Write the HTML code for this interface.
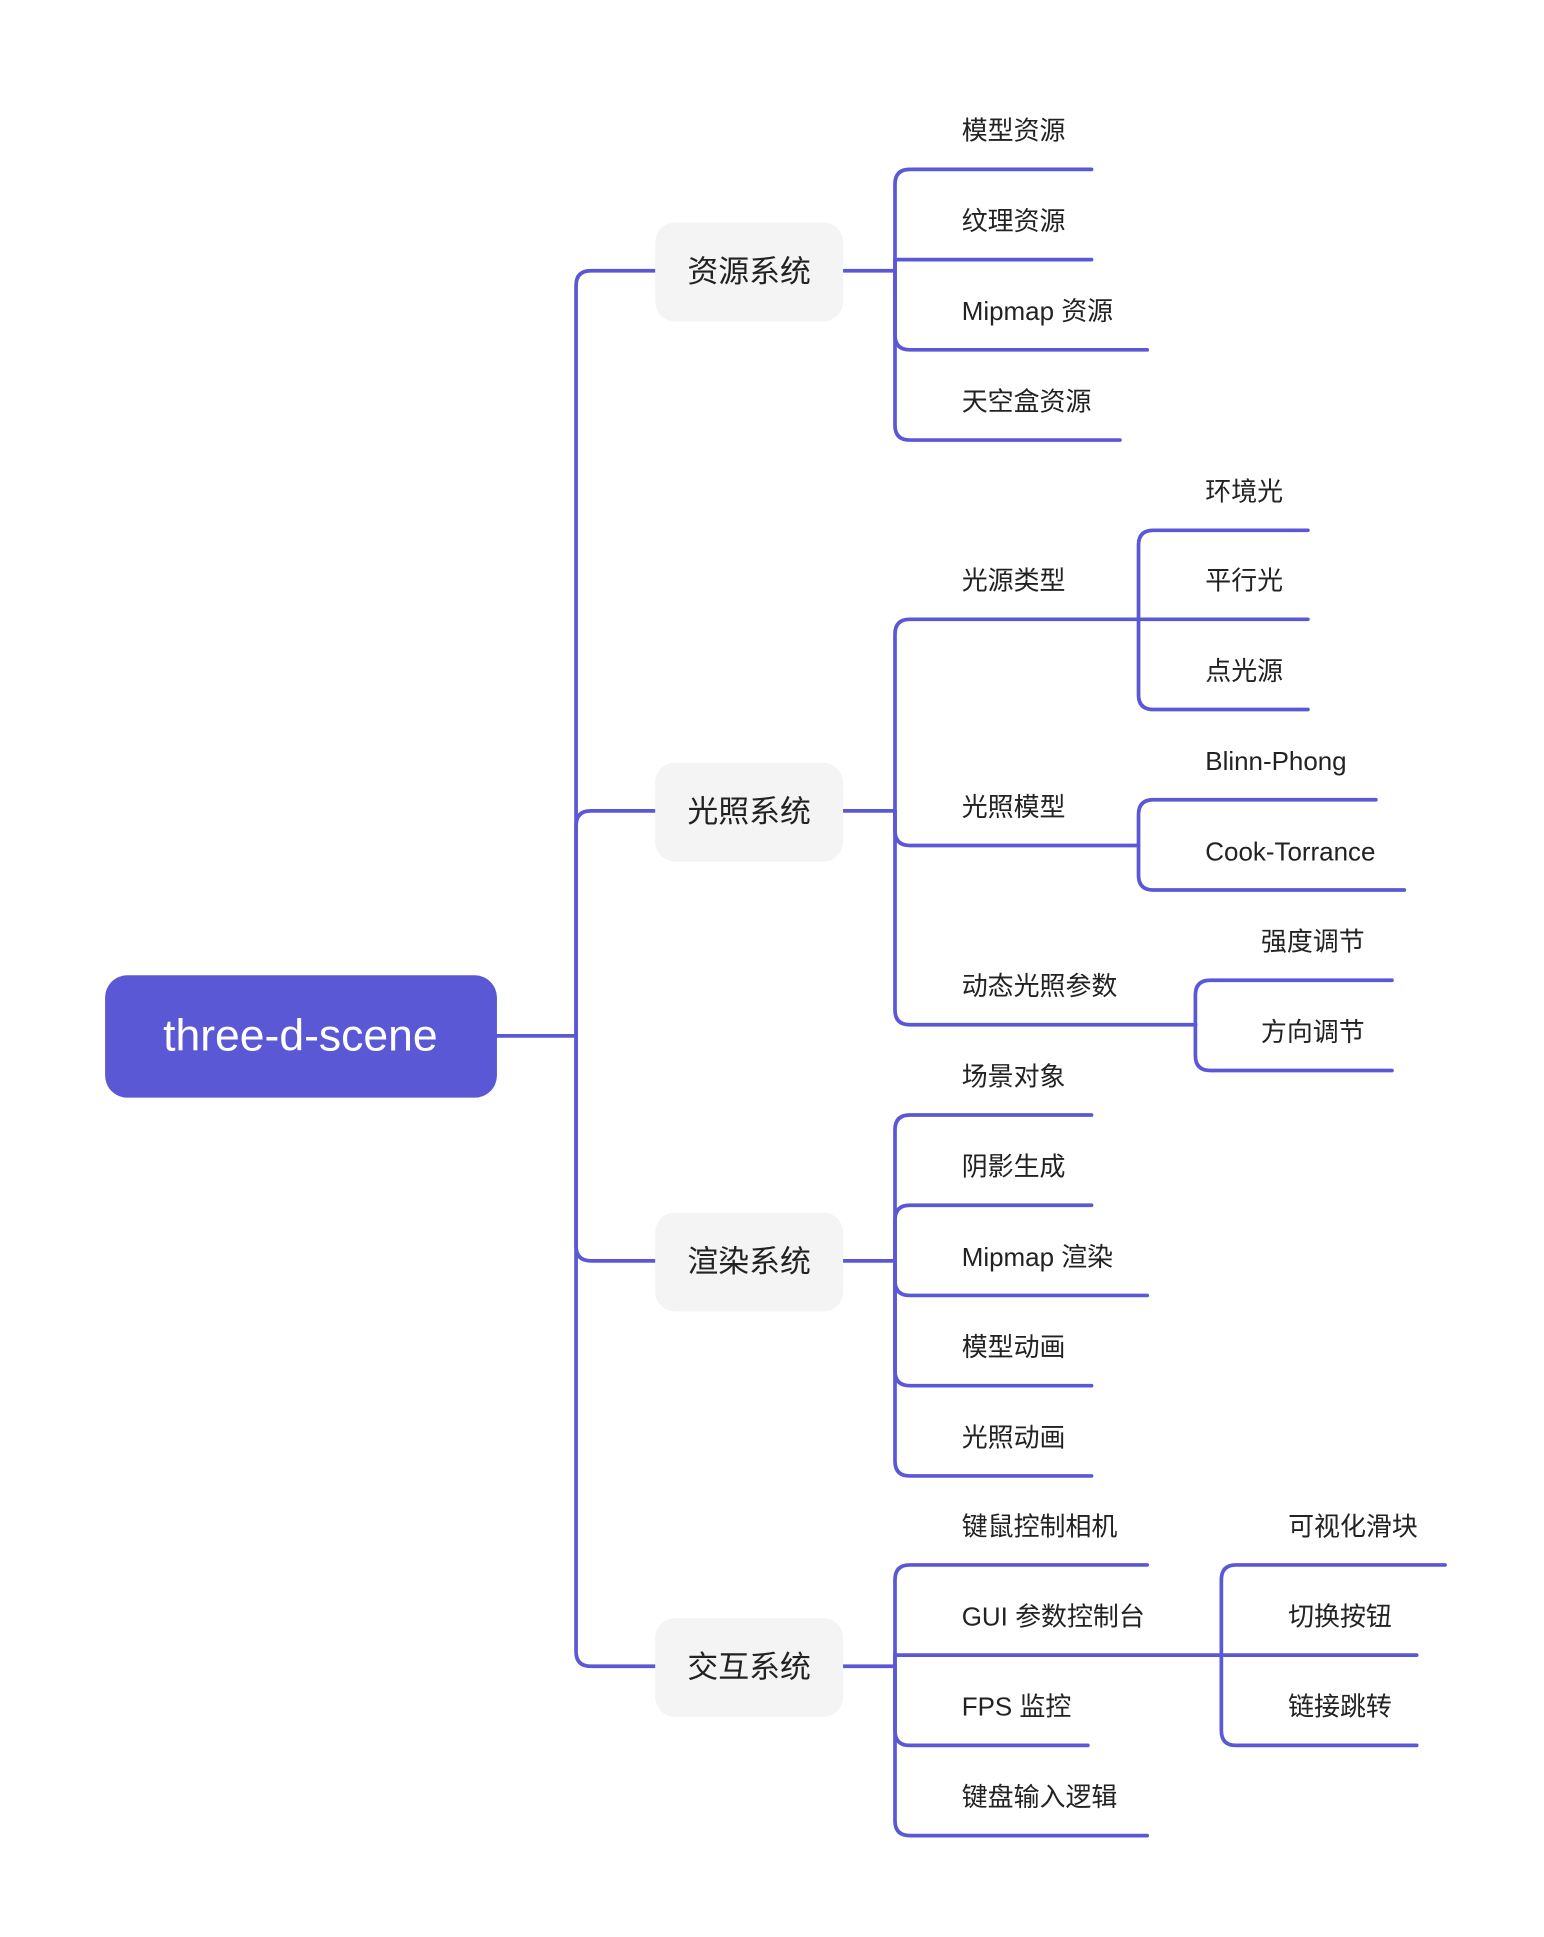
<!DOCTYPE html>
<html><head><meta charset="utf-8"><style>
html,body{margin:0;padding:0;background:#fff;}
svg{display:block;}
text{font-family:"Liberation Sans","Noto Sans CJK SC",sans-serif;fill:#222;}
</style></head><body>
<svg width="1544" height="1937" viewBox="0 0 1249 1567" preserveAspectRatio="none" xmlns="http://www.w3.org/2000/svg">
<rect x="0" y="0" width="1249" height="1567" fill="#fff"/>
<g fill="none" stroke="#5b58d6" stroke-width="3" stroke-linecap="round">
<path d="M402 838 H466"/>
<path d="M466 838 V231 Q466 219 478 219 H530"/>
<path d="M466 838 V668 Q466 656 478 656 H530"/>
<path d="M466 838 V1008 Q466 1020 478 1020 H530"/>
<path d="M466 838 V1336 Q466 1348 478 1348 H530"/>
<path d="M682 219 H724"/><path d="M682 656 H724"/><path d="M682 1020 H724"/><path d="M682 1348 H724"/>
<path d="M724 219 V149 Q724 137 736 137 H883"/>
<path d="M724 219 V210 H883"/>
<path d="M724 219 V271 Q724 283 736 283 H928"/>
<path d="M724 219 V344 Q724 356 736 356 H906"/>
<path d="M724 656 V513 Q724 501 736 501 H921"/>
<path d="M724 656 V672 Q724 684 736 684 H921"/>
<path d="M724 656 V817 Q724 829 736 829 H967"/>
<path d="M921 501 V441 Q921 429 933 429 H1058"/>
<path d="M921 501 H1058"/>
<path d="M921 501 V562 Q921 574 933 574 H1058"/>
<path d="M921 684 V659 Q921 647 933 647 H1113"/>
<path d="M921 684 V708 Q921 720 933 720 H1136"/>
<path d="M967 829 V805 Q967 793 979 793 H1126"/>
<path d="M967 829 V854 Q967 866 979 866 H1126"/>
<path d="M724 1020 V914 Q724 902 736 902 H883"/>
<path d="M724 1020 V987 Q724 975 736 975 H883"/>
<path d="M724 1020 V1036 Q724 1048 736 1048 H928"/>
<path d="M724 1020 V1109 Q724 1121 736 1121 H883"/>
<path d="M724 1020 V1182 Q724 1194 736 1194 H883"/>
<path d="M724 1348 V1278 Q724 1266 736 1266 H928"/>
<path d="M724 1348 V1339 H988"/>
<path d="M724 1348 V1400 Q724 1412 736 1412 H880"/>
<path d="M724 1348 V1473 Q724 1485 736 1485 H928"/>
<path d="M988 1339 V1278 Q988 1266 1000 1266 H1169"/>
<path d="M988 1339 H1146"/>
<path d="M988 1339 V1400 Q988 1412 1000 1412 H1146"/>
</g>
<rect x="85" y="789" width="317" height="99" rx="18" fill="#5b58d6"/>
<text x="243" y="850" font-size="36" text-anchor="middle" style="fill:#fff">three-d-scene</text>
<g fill="#f4f4f4">
<rect x="530" y="180" width="152" height="80" rx="16"/>
<rect x="530" y="617" width="152" height="80" rx="16"/>
<rect x="530" y="981" width="152" height="80" rx="16"/>
<rect x="530" y="1309" width="152" height="80" rx="16"/>
</g>
<g font-size="25" text-anchor="middle">
<text x="606" y="228">资源系统</text>
<text x="606" y="665">光照系统</text>
<text x="606" y="1029">渲染系统</text>
<text x="606" y="1357">交互系统</text>
</g>
<g font-size="21">
<text x="778" y="113">模型资源</text>
<text x="778" y="186">纹理资源</text>
<text x="778" y="259">Mipmap 资源</text>
<text x="778" y="332">天空盒资源</text>
<text x="778" y="477">光源类型</text>
<text x="778" y="660">光照模型</text>
<text x="778" y="805">动态光照参数</text>
<text x="975" y="405">环境光</text>
<text x="975" y="477">平行光</text>
<text x="975" y="550">点光源</text>
<text x="975" y="623">Blinn-Phong</text>
<text x="975" y="696">Cook-Torrance</text>
<text x="1020" y="769">强度调节</text>
<text x="1020" y="842">方向调节</text>
<text x="778" y="878">场景对象</text>
<text x="778" y="951">阴影生成</text>
<text x="778" y="1024">Mipmap 渲染</text>
<text x="778" y="1097">模型动画</text>
<text x="778" y="1170">光照动画</text>
<text x="778" y="1242">键鼠控制相机</text>
<text x="778" y="1315">GUI 参数控制台</text>
<text x="778" y="1388">FPS 监控</text>
<text x="778" y="1461">键盘输入逻辑</text>
<text x="1042" y="1242">可视化滑块</text>
<text x="1042" y="1315">切换按钮</text>
<text x="1042" y="1388">链接跳转</text>
</g>
</svg>
</body></html>
